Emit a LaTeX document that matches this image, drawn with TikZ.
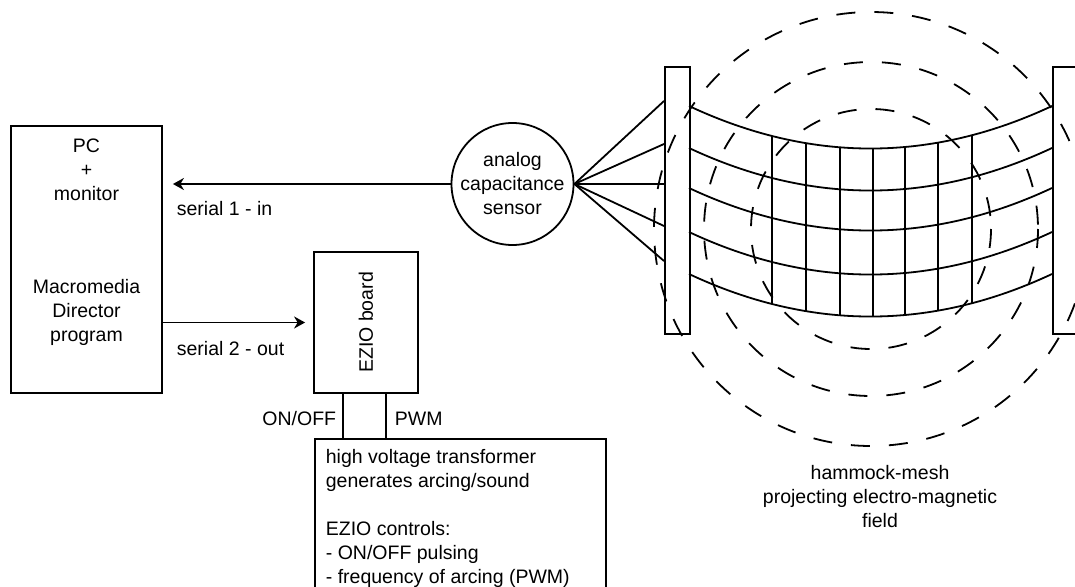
\documentclass[tikz,border=0pt]{standalone}
\usepackage{fontspec}
\setmainfont{Liberation Sans}
\usetikzlibrary{arrows.meta,calc}
\begin{document}
\begin{tikzpicture}[x=1pt,y=-1pt,
  line width=1.8pt,
  font=\fontsize{19.5}{24}\selectfont,
  box/.style={draw, rectangle, inner sep=0pt},
  lbl/.style={inner sep=0pt},
  conn/.style={-{Stealth[length=11pt,width=12pt,inset=3.5pt]}},
  field/.style={dash pattern=on 19pt off 19pt},
]
\useasboundingbox (0,0) rectangle (1075,586);
\clip (0,0) rectangle (1075,586);

% PC
\node[box, minimum width=151pt, minimum height=267pt] (pc) at (86.5,259.5) {};
\node[lbl, align=center] (pct) at (86.5,170) {PC\\+\\monitor};
\node[lbl, align=center] (mdp) at (86.5,312) {Macromedia\\Director\\program};

% sensor
\node[draw, circle, minimum size=122pt, inner sep=0pt, align=center] (sensor) at (512.5,184) {analog\\capacitance\\sensor};

% EZIO board
\node[box, minimum width=104pt, minimum height=141pt] (ezio) at (366,322.5) {};
\node[lbl, rotate=90] (eziot) at (ezio.center) {EZIO board};

% high voltage transformer
\node[box, minimum width=291pt, minimum height=180pt, anchor=north west] (hv) at (314,438) {};
\node[lbl, align=left, anchor=north west] (hvt) at (325,448) {high voltage transformer\\generates arcing/sound\\[24pt]EZIO controls:\\- ON/OFF pulsing\\- frequency of arcing (PWM)};

% bars
\node[box, minimum width=25pt, minimum height=267pt, anchor=north west] (lbar) at (664,66) {};
\node[box, minimum width=26pt, minimum height=267pt, anchor=north west] (rbar) at (1052,66) {};

% connectors
\draw[conn, shorten >=10pt] (sensor.west) -- (sensor.west -| pc.east);
\draw[conn, shorten >=8pt] (pc.east |- ezio.west) -- (ezio.west);
\node[lbl, anchor=west] (s1) at (176,209) {serial 1 - in};
\node[lbl, anchor=west] (s2) at (176,349) {serial 2 - out};

\coordinate (w1) at ($(ezio.south west)+(29.5,0)$);
\coordinate (w2) at ($(ezio.south west)+(73,0)$);
\draw (w1) -- (w1 |- hv.north);
\draw (w2) -- (w2 |- hv.north);
\node[lbl, anchor=east] (onoff) at (337,419) {ON/OFF};
\node[lbl, anchor=west] (pwm) at (394,419) {PWM};

% sensor wires
\foreach \dy in {35,78,118,160,195}
  \draw (sensor.east) -- ($(lbar.north west)+(0,\dy)$);

% mesh
\foreach \y in {106,148,188,232,274}
  \draw (689,\y) .. controls (810,\y+56.7) and (931,\y+56.7) .. (1052,\y);
\foreach \x in {772,806,840,873,905,938,972} {
  \pgfmathsetmacro\tt{(\x-689)/363}
  \pgfmathsetmacro\ss{170*\tt*(1-\tt)}
  \draw (\x,106+\ss) -- (\x,274+\ss);
}

% field
\foreach \r in {120,167,217}
  \draw[field] (871,229) circle[radius=\r];

\node[lbl, align=center] (ham) at (880,497) {hammock-mesh\\projecting electro-magnetic\\field};
\end{tikzpicture}
\end{document}
